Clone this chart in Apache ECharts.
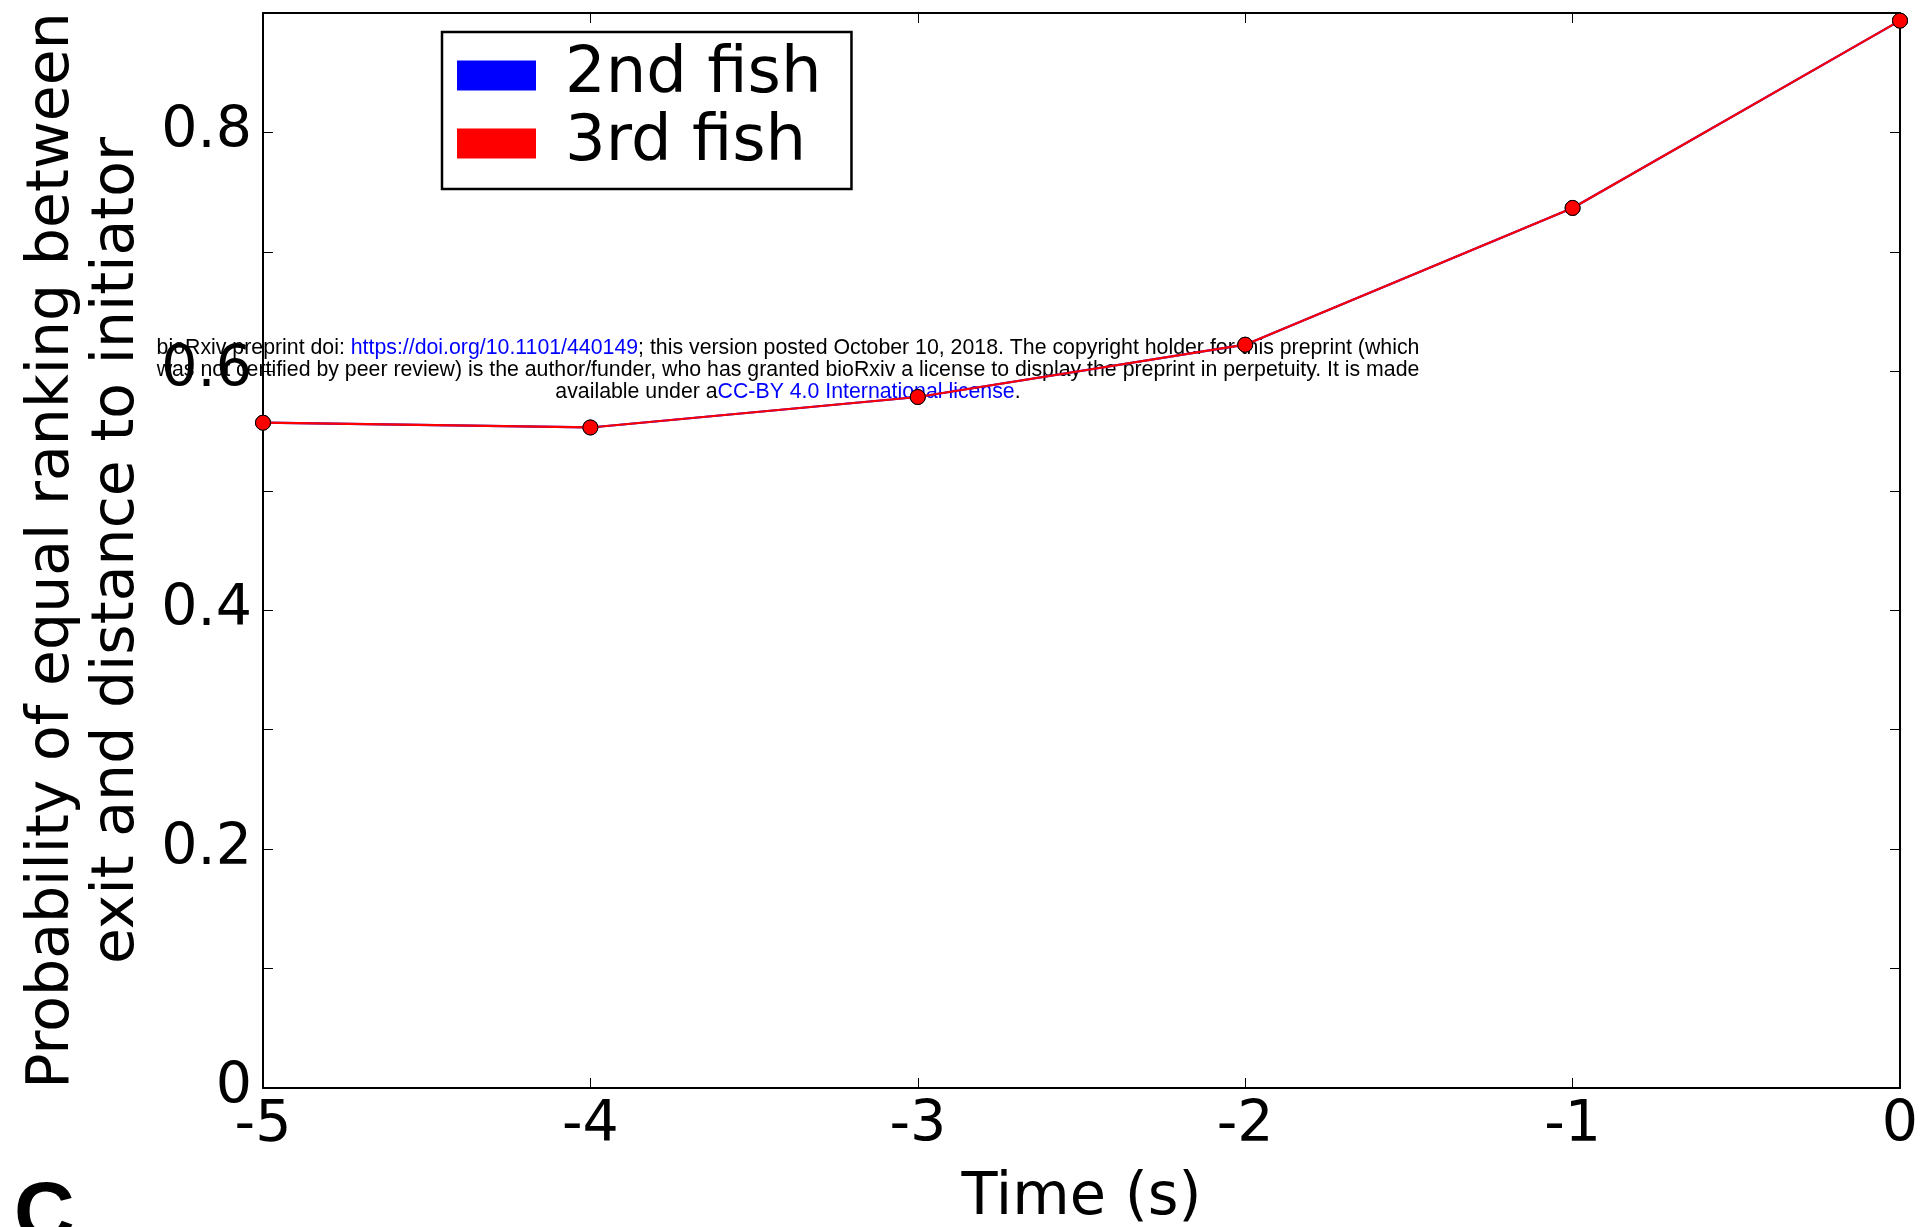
<!DOCTYPE html>
<html>
<head>
<meta charset="utf-8">
<script src="https://cdn.jsdelivr.net/npm/echarts@6/dist/echarts.min.js"></script>
<style>
html,body{margin:0;padding:0;background:#fff;overflow:hidden;}
#chart{width:1922px;height:1227px;}
</style>
</head>
<body>
<div id="chart"></div>
<script>
// ---- data ----
const timeValues = [-5, -4, -3, -2, -1, 0];
const secondFish = [0.557, 0.553, 0.5785, 0.6223, 0.7368, 0.8936];
const thirdFish  = [0.557, 0.553, 0.5785, 0.6223, 0.7368, 0.8936];
const seriesNames = ['2nd fish', '3rd fish'];
const xName = 'Time (s)';
const yName = 'Probability of equal ranking between\nexit and distance to initiator';

const toPairs = (ys) => timeValues.map((x, i) => [x, ys[i]]);

const FONT = '"DejaVu Sans", sans-serif';
const chart = echarts.init(document.getElementById('chart'), null, {renderer: 'canvas'});

function yLabel(v) {
  const k = Math.round(v * 10);
  if (k % 2 !== 0) return '';
  return k === 0 ? '0' : (k / 10).toFixed(1);
}

const axisCommon = {
  axisLine: {show: true, onZero: false, lineStyle: {color: '#000', width: 2}},
  axisTick: {show: true, inside: true, length: 10, lineStyle: {color: '#000', width: 1}},
  splitLine: {show: false}
};

chart.setOption({
  backgroundColor: '#fff',
  animation: false,
  grid: {left: 263, right: 22, top: 13, bottom: 139, containLabel: false, outerBoundsMode: 'none'},
  legend: {
    data: seriesNames,
    orient: 'vertical',
    left: 442,
    top: 32,
    icon: 'rect',
    itemWidth: 79,
    itemHeight: 30,
    itemGap: 3,
    padding: [11, 30, 13, 15],
    borderColor: '#000',
    borderWidth: 2.5,
    backgroundColor: '#fff',
    textStyle: {fontFamily: FONT, fontSize: 64, color: '#000', lineHeight: 57, padding: [8, 0, 0, 24]},
    itemStyle: {borderWidth: 0}
  },
  xAxis: [
    Object.assign({}, axisCommon, {
      type: 'value', position: 'bottom', min: -5, max: 0, interval: 1,
      name: xName, nameLocation: 'middle', nameGap: 81,
      nameTextStyle: {fontFamily: FONT, fontSize: 59, color: '#000'},
      axisLabel: {show: true, margin: 10, fontFamily: FONT, fontSize: 57, color: '#000'}
    }),
    Object.assign({}, axisCommon, {
      type: 'value', position: 'top', min: -5, max: 0, interval: 1,
      axisLabel: {show: false}
    })
  ],
  yAxis: [
    Object.assign({}, axisCommon, {
      type: 'value', position: 'left', min: 0, max: 0.9, interval: 0.1,
      name: yName, nameLocation: 'middle', nameGap: 111, nameRotate: 90,
      nameTextStyle: {fontFamily: FONT, fontSize: 58.5, color: '#000', lineHeight: 65, align: 'center'},
      axisLabel: {show: true, margin: 11, fontFamily: FONT, fontSize: 57, color: '#000', formatter: yLabel}
    }),
    Object.assign({}, axisCommon, {
      type: 'value', position: 'right', min: 0, max: 0.9, interval: 0.1,
      axisLabel: {show: false}
    })
  ],
  series: [
    {
      name: seriesNames[0], type: 'line', xAxisIndex: 0, yAxisIndex: 0,
      data: toPairs(secondFish),
      color: '#0000ff',
      lineStyle: {color: '#0000ff', width: 2.2},
      symbol: 'circle', symbolSize: 15,
      itemStyle: {color: '#0000ff', borderColor: '#000', borderWidth: 1},
      z: 2
    },
    {
      name: seriesNames[1], type: 'line', xAxisIndex: 0, yAxisIndex: 0,
      data: toPairs(thirdFish),
      color: '#ff0000',
      lineStyle: {color: '#ff0000', width: 2.2},
      symbol: 'circle', symbolSize: 15,
      itemStyle: {color: '#ff0000', borderColor: '#000', borderWidth: 1},
      z: 3
    }
  ],
  graphic: [
    {
      type: 'text', z: 1,
      x: 788, y: 337,
      style: {
        text: '{k|bioRxiv preprint doi: }{b|https://doi.org/10.1101/440149}{k|; this version posted October 10, 2018. The copyright holder for this preprint (which}\n' +
              '{k|was not certified by peer review) is the author/funder, who has granted bioRxiv a license to display the preprint in perpetuity. It is made}\n' +
              '{k|available under a}{b|CC-BY 4.0 International license}{k|.}',
        align: 'center',
        verticalAlign: 'top',
        rich: {
          k: {fontFamily: '"Liberation Sans", Arial, sans-serif', fontSize: 21.3, lineHeight: 22, fill: '#000'},
          b: {fontFamily: '"Liberation Sans", Arial, sans-serif', fontSize: 21.3, lineHeight: 22, fill: '#0000ff'}
        }
      }
    },
    {
      type: 'text', z: 100,
      x: 14, y: 1175,
      style: {
        text: 'C',
        fontFamily: '"Liberation Sans", Arial, sans-serif',
        fontWeight: 'bold',
        fontSize: 84,
        fill: '#000',
        verticalAlign: 'top'
      }
    }
  ]
});
</script>
</body>
</html>
